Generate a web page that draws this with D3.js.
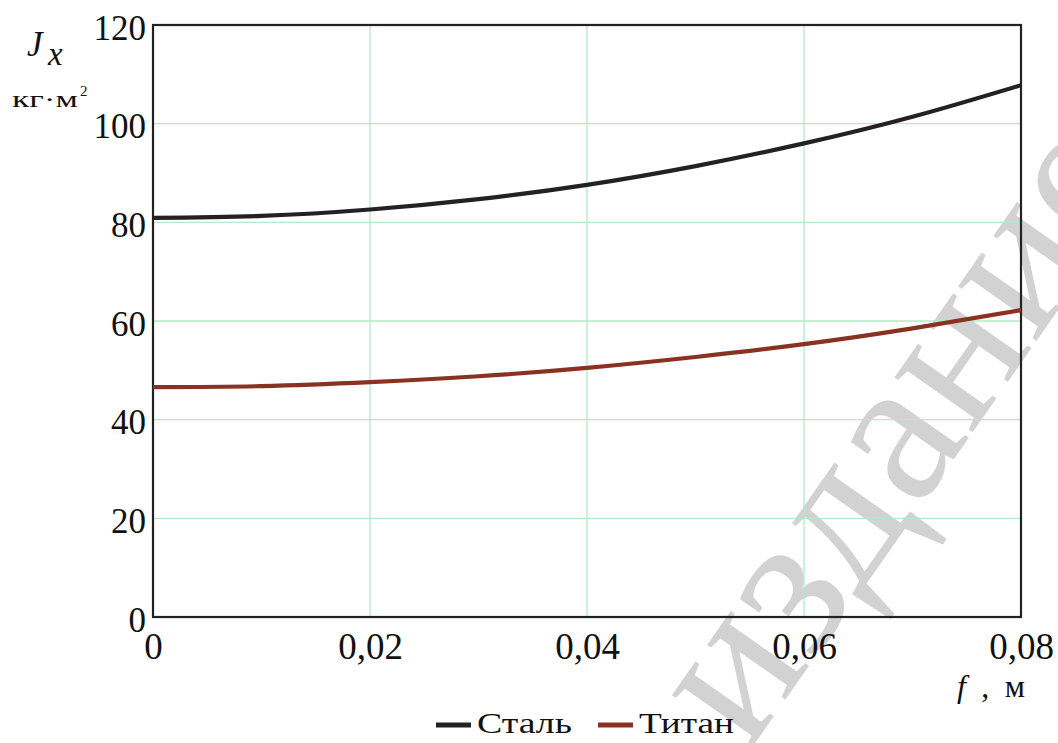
<!DOCTYPE html>
<html>
<head>
<meta charset="UTF-8">
<title>J_x от f</title>
<script src="https://cdnjs.cloudflare.com/ajax/libs/d3/7.8.5/d3.min.js"></script>
<style>
body{margin:0;background:#fff;}
svg text{font-family:"Liberation Serif","Times New Roman","DejaVu Serif",serif;fill:#111;}
.grid line{stroke:#b3ebc4;stroke-width:1.3;}
svg text.wm{fill:#d2d2d2;font-size:208px;}
</style>
</head>
<body>
<div id="chart"></div>
<script>
var width=1058, height=743;
var margin={left:153,top:25,right:37,bottom:126};
var serif='"Liberation Serif","Times New Roman",serif';

// значения
var fVals=[0,0.01,0.02,0.03,0.04,0.05,0.06,0.07,0.08];
var stal=[80.9,81.3,82.6,84.7,87.6,91.4,96.0,101.4,107.8];
var titan=[46.6,46.8,47.6,48.8,50.5,52.7,55.3,58.5,62.2];
var xTicks=[0,0.02,0.04,0.06,0.08];
var yTicks=[0,20,40,60,80,100,120];
var seriesNames=["Сталь","Титан"];
var seriesColors=["#222222","#8a3222"];

var svg=d3.select("#chart").append("svg").attr("width",width).attr("height",height)
  .attr("font-family",serif);

var x=d3.scaleLinear().domain([0,0.08]).range([margin.left,width-margin.right]);
var y=d3.scaleLinear().domain([0,120]).range([height-margin.bottom,margin.top]);

// watermark
svg.append("text").attr("class","wm")
  .attr("transform","translate(748,753) rotate(-55)")
  .text("издание");

// grid
svg.append("g").attr("class","grid")
  .selectAll("line.h").data(yTicks.slice(1,-1)).enter().append("line")
  .attr("x1",x(0)).attr("x2",x(0.08)).attr("y1",function(d){return y(d);}).attr("y2",function(d){return y(d);});
svg.append("g").attr("class","grid")
  .selectAll("line.v").data(xTicks.slice(1,-1)).enter().append("line")
  .attr("y1",y(0)).attr("y2",y(120)).attr("x1",function(d){return x(d);}).attr("x2",function(d){return x(d);});

var fmt=function(d){return d===0?"0":d3.format(".2f")(d).replace(".",",");};

// axes (only labels, frame drawn separately)
var xAxis=svg.append("g").attr("transform","translate(0,"+(y(0))+")")
  .call(d3.axisBottom(x).tickValues(xTicks).tickSize(0).tickPadding(9).tickFormat(fmt));
xAxis.attr("font-family",serif).attr("font-size",37);
xAxis.select(".domain").remove();
xAxis.selectAll(".tick text").attr("dy","0.9em");

var yAxis=svg.append("g").attr("transform","translate("+x(0)+",0)")
  .call(d3.axisLeft(y).tickValues(yTicks).tickSize(0).tickPadding(7));
yAxis.attr("font-family",serif).attr("font-size",35);
yAxis.select(".domain").remove();
yAxis.selectAll(".tick text").attr("dy","0.4em");

// frame
svg.append("rect").attr("x",x(0)).attr("y",y(120))
  .attr("width",x(0.08)-x(0)).attr("height",y(0)-y(120))
  .attr("fill","none").attr("stroke","#222").attr("stroke-width",2.2);

// curves
var line=d3.line().curve(d3.curveNatural)
  .x(function(d){return x(d[0]);}).y(function(d){return y(d[1]);});
[stal,titan].forEach(function(s,i){
  svg.append("path").datum(fVals.map(function(f,j){return [f,s[j]];}))
    .attr("d",line).attr("fill","none")
    .attr("stroke",seriesColors[i]).attr("stroke-width",4.2);
});

// axis titles
svg.append("text").attr("x",27).attr("y",56).attr("font-style","italic").attr("font-size",35).text("J");
svg.append("text").attr("x",48).attr("y",65).attr("font-style","italic").attr("font-size",33).text("x");
svg.append("text").attr("x",12).attr("y",107).attr("font-size",23)
  .attr("textLength",66).attr("lengthAdjust","spacingAndGlyphs").text("кг·м");
svg.append("text").attr("x",80).attr("y",96).attr("font-size",15).text("2");

svg.append("text").attr("x",957).attr("y",697).attr("font-size",32)
  .attr("textLength",68).attr("lengthAdjust","spacing")
  .html('<tspan font-style="italic">f</tspan> , м');

// legend
var leg=svg.append("g");
var legX=[436,598];
seriesNames.forEach(function(n,i){
  leg.append("line").attr("x1",legX[i]).attr("x2",legX[i]+35).attr("y1",725).attr("y2",725)
    .attr("stroke",seriesColors[i]).attr("stroke-width",5);
  leg.append("text").attr("x",legX[i]+41).attr("y",733).attr("font-size",30)
    .attr("textLength",95).attr("lengthAdjust","spacingAndGlyphs").text(n);
});
</script>
</body>
</html>
